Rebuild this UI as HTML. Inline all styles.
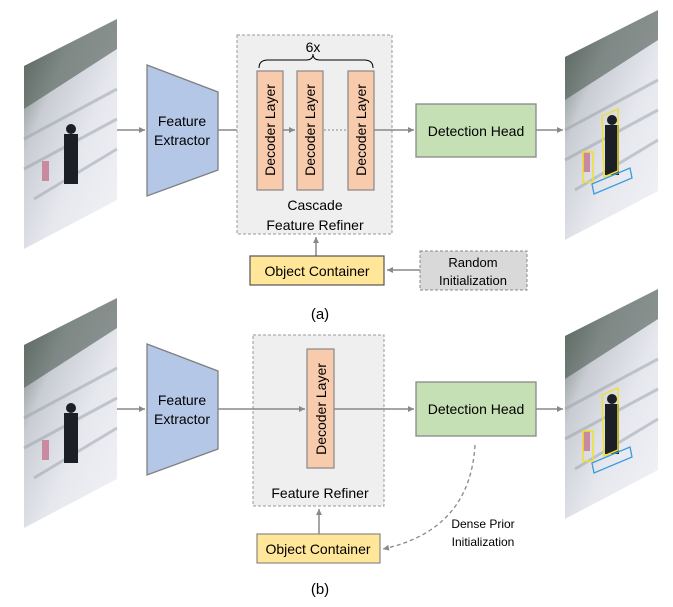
<!DOCTYPE html>
<html><head><style>
body{margin:0;background:#fff;}
svg{display:block;font-family:"Liberation Sans",sans-serif;}
</style></head><body>
<svg width="673" height="607" viewBox="0 0 673 607" xmlns="http://www.w3.org/2000/svg">
<defs>
<marker id="ar" markerWidth="8" markerHeight="8" refX="6" refY="3" orient="auto" markerUnits="userSpaceOnUse"><path d="M0,0 L6,3 L0,6 z" fill="#888"/></marker>
<linearGradient id="snow" x1="0" y1="0" x2="1" y2="1"><stop offset="0" stop-color="#5d6a63"/><stop offset="0.3" stop-color="#c9cdd3"/><stop offset="0.6" stop-color="#e6e8ee"/><stop offset="1" stop-color="#f2f3f6"/></linearGradient>
<g id="img">
<polygon points="0,47 93,0 93,181 0,230" fill="url(#snow)"/>
<polygon points="0,47 93,0 93,30 0,90" fill="#4d5a52" opacity="0.6"/>
<path d="M0,120 L93,70 M0,150 L93,100 M10,180 L93,130" stroke="#9aa0a8" stroke-width="3" opacity="0.5"/>
<rect x="40" y="115" width="14" height="50" fill="#1c1f26"/>
<circle cx="47" cy="110" r="5" fill="#1c1f26"/>
<rect x="18" y="142" width="7" height="20" fill="#c98aa0"/>
</g>
</defs>

<!-- (a) -->
<use href="#img" x="24" y="19"/>
<line x1="117" y1="130" x2="145" y2="130" stroke="#888" stroke-width="1.5" marker-end="url(#ar)"/>
<polygon points="147,65 218,92 218,170 147,196" fill="#b4c7e7" stroke="#7f7f7f" stroke-width="1.3"/>
<text x="182" y="126" font-size="14" text-anchor="middle">Feature</text>
<text x="182" y="145" font-size="14" text-anchor="middle">Extractor</text>
<line x1="218" y1="130" x2="255" y2="130" stroke="#888" stroke-width="1.5" marker-end="url(#ar)"/>
<rect x="237" y="35" width="155" height="199" fill="#efefef" stroke="#999" stroke-dasharray="3,2"/>
<text x="313" y="52" font-size="14" text-anchor="middle">6x</text>
<path d="M259,68 Q259,60 268,60 L306,60 Q313,60 313,54 Q313,60 320,60 L364,60 Q373,60 373,68" fill="none" stroke="#000" stroke-width="1"/>
<g fill="#f8cbad" stroke="#888" stroke-width="1.2">
<rect x="257" y="71" width="26" height="119"/><rect x="297" y="71" width="26" height="119"/><rect x="348" y="71" width="26" height="119"/></g>
<g font-size="14" text-anchor="middle">
<text transform="translate(275,130) rotate(-90)">Decoder Layer</text>
<text transform="translate(315,130) rotate(-90)">Decoder Layer</text>
<text transform="translate(366,130) rotate(-90)">Decoder Layer</text></g>
<line x1="283" y1="130" x2="295" y2="130" stroke="#888" stroke-width="1.5" marker-end="url(#ar)"/>
<line x1="324" y1="130" x2="347" y2="130" stroke="#888" stroke-width="1" stroke-dasharray="2,2"/>
<line x1="374" y1="130" x2="414" y2="130" stroke="#888" stroke-width="1.5" marker-end="url(#ar)"/>
<text x="315" y="210" font-size="14" text-anchor="middle">Cascade</text>
<text x="315" y="230" font-size="14" text-anchor="middle">Feature Refiner</text>
<rect x="416" y="104" width="120" height="53" fill="#c5e0b4" stroke="#888" stroke-width="1.3"/>
<text x="476" y="136" font-size="14" text-anchor="middle">Detection Head</text>
<line x1="536" y1="130" x2="563" y2="130" stroke="#888" stroke-width="1.5" marker-end="url(#ar)"/>
<use href="#img" x="565" y="10"/>
<rect x="583" y="152" width="10" height="30" fill="none" stroke="#f0e030" stroke-width="1.5"/>
<polygon points="602,116 618,109 618,171 604,177" fill="none" stroke="#f0e030" stroke-width="1.5"/>
<polygon points="592,184 630,168 632,178 594,194" fill="none" stroke="#3a9ae0" stroke-width="1.3"/>
<line x1="316" y1="256" x2="316" y2="237" stroke="#888" stroke-width="1.5" marker-end="url(#ar)"/>
<rect x="250" y="256" width="134" height="29" fill="#ffe699" stroke="#555" stroke-width="1.2"/>
<text x="317" y="276" font-size="14" text-anchor="middle">Object Container</text>
<line x1="420" y1="270" x2="387" y2="270" stroke="#888" stroke-width="1.5" marker-end="url(#ar)"/>
<rect x="420" y="251" width="107" height="39" fill="#d9d9d9" stroke="#888" stroke-dasharray="3,2"/>
<text x="473" y="267" font-size="13" text-anchor="middle">Random</text>
<text x="473" y="285" font-size="13" text-anchor="middle">Initialization</text>
<text x="320" y="319" font-size="15" text-anchor="middle">(a)</text>

<!-- (b) -->
<use href="#img" x="24" y="298"/>
<line x1="117" y1="409" x2="145" y2="409" stroke="#888" stroke-width="1.5" marker-end="url(#ar)"/>
<polygon points="147,344 218,371 218,449 147,475" fill="#b4c7e7" stroke="#7f7f7f" stroke-width="1.3"/>
<text x="182" y="405" font-size="14" text-anchor="middle">Feature</text>
<text x="182" y="424" font-size="14" text-anchor="middle">Extractor</text>
<rect x="253" y="335" width="131" height="171" fill="#efefef" stroke="#999" stroke-dasharray="3,2"/>
<line x1="218" y1="409" x2="305" y2="409" stroke="#888" stroke-width="1.5" marker-end="url(#ar)"/>
<rect x="307" y="349" width="27" height="119" fill="#f8cbad" stroke="#888" stroke-width="1.2"/>
<text transform="translate(326,409) rotate(-90)" font-size="14" text-anchor="middle">Decoder Layer</text>
<line x1="334" y1="409" x2="414" y2="409" stroke="#888" stroke-width="1.5" marker-end="url(#ar)"/>
<text x="320" y="498" font-size="14" text-anchor="middle">Feature Refiner</text>
<rect x="416" y="382" width="120" height="54" fill="#c5e0b4" stroke="#888" stroke-width="1.3"/>
<text x="476" y="414" font-size="14" text-anchor="middle">Detection Head</text>
<line x1="536" y1="409" x2="563" y2="409" stroke="#888" stroke-width="1.5" marker-end="url(#ar)"/>
<use href="#img" x="565" y="289"/>
<rect x="583" y="431" width="10" height="30" fill="none" stroke="#f0e030" stroke-width="1.5"/>
<polygon points="602,395 618,388 618,450 604,456" fill="none" stroke="#f0e030" stroke-width="1.5"/>
<polygon points="592,463 630,447 632,457 594,473" fill="none" stroke="#3a9ae0" stroke-width="1.3"/>
<line x1="319" y1="534" x2="319" y2="509" stroke="#888" stroke-width="1.5" marker-end="url(#ar)"/>
<rect x="257" y="534" width="123" height="29" fill="#ffe699" stroke="#888" stroke-width="1.2"/>
<text x="318" y="554" font-size="14" text-anchor="middle">Object Container</text>
<path d="M475,445 Q470,530 383,549" fill="none" stroke="#888" stroke-width="1.3" stroke-dasharray="4,3" marker-end="url(#ar)"/>
<text x="483" y="528" font-size="12" text-anchor="middle">Dense Prior</text>
<text x="483" y="546" font-size="12" text-anchor="middle">Initialization</text>
<text x="320" y="594" font-size="15" text-anchor="middle">(b)</text>
</svg>
</body></html>
